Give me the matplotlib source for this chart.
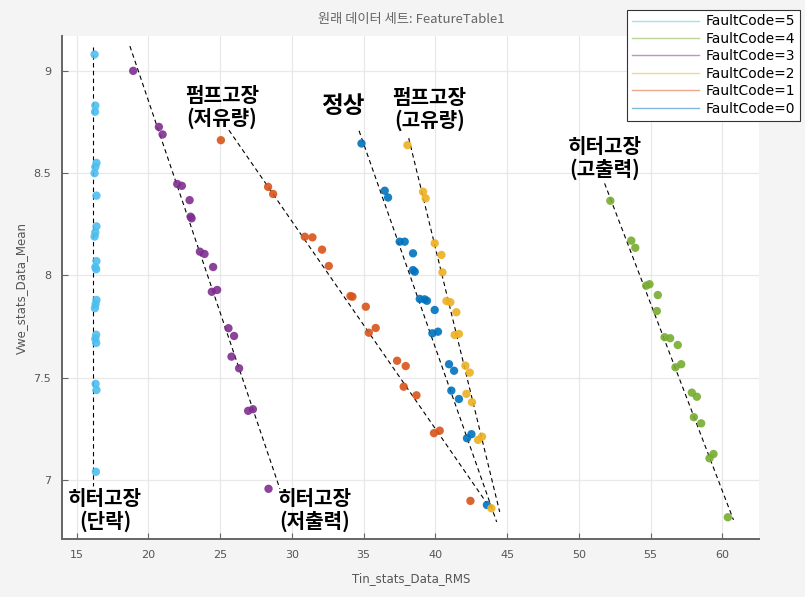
import numpy as np
import matplotlib
matplotlib.use('Agg')
from matplotlib import pyplot as plt
from matplotlib.lines import Line2D

# values, one pair of lists per FaultCode
fc0_x = [34.85, 36.47, 36.70, 37.51, 37.86, 38.44, 38.44, 38.56, 38.91, 39.25, 39.41,
         39.95, 39.79, 40.18, 40.95, 41.30, 41.11, 41.64, 42.20, 42.51, 43.59]
fc0_y = [8.645, 8.414, 8.381, 8.165, 8.165, 8.108, 8.026, 8.018, 7.885, 7.883, 7.876,
         7.831, 7.717, 7.725, 7.566, 7.534, 7.437, 7.396, 7.204, 7.224, 6.878]

fc1_x = [25.05, 28.34, 28.69, 30.90, 31.43, 32.10, 32.57, 34.08, 34.22, 35.15, 35.36,
         35.84, 37.33, 37.93, 37.79, 38.68, 39.90, 40.30, 42.44]
fc1_y = [8.661, 8.433, 8.398, 8.189, 8.186, 8.126, 8.046, 7.899, 7.896, 7.847, 7.720,
         7.743, 7.583, 7.557, 7.456, 7.414, 7.229, 7.241, 6.898]

fc2_x = [38.05, 39.14, 39.32, 39.95, 40.42, 40.49, 40.77, 41.04, 41.46, 41.34, 41.64,
         42.09, 42.39, 42.16, 42.55, 42.97, 43.25, 43.90]
fc2_y = [8.637, 8.409, 8.377, 8.157, 8.100, 8.015, 7.875, 7.869, 7.820, 7.709, 7.714,
         7.559, 7.525, 7.421, 7.380, 7.196, 7.212, 6.862]

fc3_x = [18.94, 20.73, 20.99, 22.01, 22.33, 22.87, 22.94, 23.01, 23.59, 23.91, 24.51,
         24.42, 24.79, 25.58, 25.97, 25.79, 26.32, 26.95, 27.28, 28.37]
fc3_y = [9.000, 8.726, 8.689, 8.447, 8.438, 8.368, 8.287, 8.279, 8.116, 8.105, 8.041,
         7.920, 7.929, 7.742, 7.704, 7.603, 7.546, 7.338, 7.346, 6.957]

fc4_x = [52.19, 53.65, 53.93, 54.69, 54.92, 55.50, 55.43, 55.97, 56.36, 56.89, 56.73,
         57.13, 57.87, 58.22, 58.01, 58.52, 59.10, 59.38, 60.38]
fc4_y = [8.365, 8.170, 8.135, 7.950, 7.957, 7.904, 7.826, 7.698, 7.693, 7.660, 7.551,
         7.566, 7.427, 7.407, 7.307, 7.277, 7.106, 7.127, 6.818]

fc5_x = [16.25, 16.30, 16.28, 16.38, 16.30, 16.25, 16.38, 16.38, 16.30, 16.25, 16.38,
         16.30, 16.36, 16.38, 16.32, 16.27, 16.36, 16.30, 16.36, 16.32, 16.38, 16.34]
fc5_y = [9.08, 8.83, 8.80, 8.55, 8.53, 8.50, 8.39, 8.24, 8.21, 8.19, 8.07,
         8.04, 8.03, 7.88, 7.86, 7.84, 7.71, 7.69, 7.67, 7.47, 7.44, 7.04]

# dashed trend lines: [x_start, x_end], [y_start, y_end]
trend_x = [[16.11, 16.11], [18.71, 29.16], [25.61, 43.57], [34.68, 44.27], [38.14, 44.48], [51.79, 60.77]]
trend_y = [[9.117, 6.971], [9.121, 6.957], [8.710, 6.888], [8.707, 6.795], [8.671, 6.844], [8.450, 6.805]]

labels = ['펌프고장\n(저유량)', '정상', '펌프고장\n(고유량)', '히터고장\n(고출력)', '히터고장\n(단락)', '히터고장\n(저출력)']
label_x = [25.12, 33.54, 39.60, 51.79, 16.97, 31.60]
label_y = [8.823, 8.828, 8.813, 8.574, 6.854, 6.854]

colors = ['#0072BD', '#D95319', '#EDB120', '#7E2F8E', '#77AC30', '#4DBEEE']
series = [(fc0_x, fc0_y), (fc1_x, fc1_y), (fc2_x, fc2_y), (fc3_x, fc3_y), (fc4_x, fc4_y), (fc5_x, fc5_y)]

fig = plt.figure(figsize=(8.05, 5.97), dpi=100, facecolor='#f4f4f4')
ax = fig.add_axes([0.0774, 0.0966, 0.8658, 0.843])
ax.set_facecolor('white')

ax.grid(True, color='#e8e8e8', linewidth=0.9)
ax.set_axisbelow(True)

for trx, tr_y in zip(trend_x, trend_y):
	ax.plot(trx, tr_y, color='k', linestyle=(0, (4, 3)), linewidth=0.8, zorder=2)

for (sx, sy), col in zip(series, colors):
	ax.scatter(sx, sy, s=36, color=col, alpha=0.9, edgecolors='none', zorder=3)

for txt, tx, ty in zip(labels, label_x, label_y):
	big = (txt == '정상')
	ax.text(tx, ty, txt, ha='center', va='center', family=['Noto Sans CJK KR', 'DejaVu Sans'],
			fontsize=17 if big else 14.5, fontweight='heavy' if big else 'bold',
			linespacing=1.1, color='black', zorder=4)

ax.set_xlim(14.0, 62.57)
ax.set_ylim(6.71, 9.17)
ax.set_xticks([15, 20, 25, 30, 35, 40, 45, 50, 55, 60])
ax.set_yticks([7, 7.5, 8, 8.5, 9])
ax.set_yticklabels(['7', '7.5', '8', '8.5', '9'])
ax.tick_params(direction='in', length=4, width=0.8, colors='#666666', labelsize=8, labelcolor='#555555', pad=8)
for side in ['top', 'right']:
	ax.spines[side].set_visible(False)
for side in ['left', 'bottom']:
	ax.spines[side].set_color('#666666')
	ax.spines[side].set_linewidth(1.4)

ax.set_xlabel('Tin_stats_Data_RMS', fontsize=8.5, color='#555555', labelpad=8)
ax.set_ylabel('Vwe_stats_Data_Mean', fontsize=8.5, color='#555555', labelpad=4)

fig.text(0.511, 0.968, '원래 데이터 세트: FeatureTable1', ha='center', va='center',
		 family=['Noto Sans CJK KR', 'DejaVu Sans'], fontsize=9.5, color='#666666')

handles = []
names = []
for code in [5, 4, 3, 2, 1, 0]:
	handles.append(Line2D([0], [0], color=colors[code], linewidth=1.0, alpha=0.5))
	names.append('FaultCode=%d' % code)
leg = fig.legend(handles, names, loc='upper right', bbox_to_anchor=(0.994, 0.984), fontsize=10,
				 frameon=True, fancybox=False, edgecolor='#333333', handlelength=4.8,
				 labelspacing=0.25, borderpad=0.35, handletextpad=0.5, borderaxespad=0,
				 framealpha=1)
leg.get_frame().set_linewidth(0.8)

fig.savefig('out.png', dpi=100, facecolor=fig.get_facecolor())
plt.close('all')
